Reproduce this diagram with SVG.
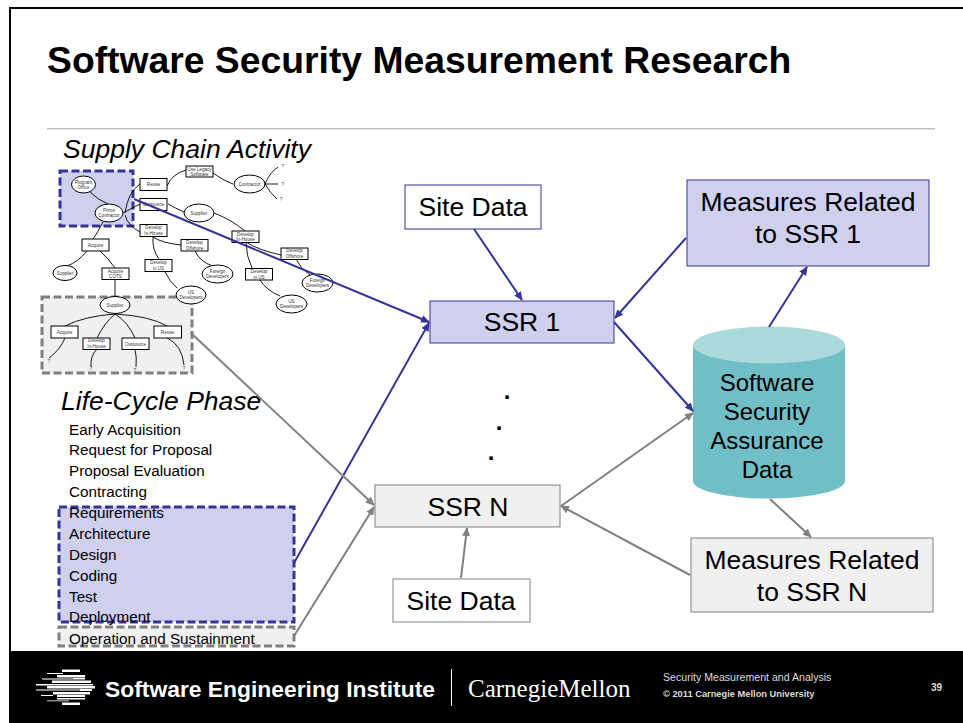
<svg xmlns="http://www.w3.org/2000/svg" width="963" height="723" viewBox="0 0 963 723">
<style>
text{font-family:"Liberation Sans",Arial,sans-serif;fill:#000}
.m{text-anchor:middle}
.l{font-size:26.500px}
.y{font-size:24px}
.s{font-size:15.250px}
.t{font-size:4.600px;fill:#333;text-anchor:middle}
.q{font-size:5px;fill:#555;text-anchor:middle}
.nb{fill:#fff;stroke:#000;stroke-width:1}
.c{fill:none;stroke:#000;stroke-width:.9}
.blue{fill:none;stroke:#333399;stroke-width:2}
.gray{fill:none;stroke:#808080;stroke-width:2}
.bb{fill:#cfcfee;stroke:#333399;stroke-width:1}
.gb{fill:#f0f0f0;stroke:#808080;stroke-width:1}
.wb{fill:#fff;stroke:#333399;stroke-width:1}
.dbl{fill:#cfcfee;stroke:#333399;stroke-width:3;stroke-dasharray:8 3.500}
.dgr{fill:#f0f0f0;stroke:#808080;stroke-width:3;stroke-dasharray:8 3.500}
.w{fill:#fff}
.g{fill:#888}
.f{fill:#ddd}
</style>
<defs>
<marker id="ab" markerWidth="10" markerHeight="8" refX="8" refY="4" orient="auto" markerUnits="userSpaceOnUse"><path d="M0 0L9 4L0 8Z" fill="#333399"/></marker>
<marker id="ag" markerWidth="10" markerHeight="8" refX="8" refY="4" orient="auto" markerUnits="userSpaceOnUse"><path d="M0 0L9 4L0 8Z" fill="#808080"/></marker>
</defs>
<rect width="963" height="723" fill="#fff"/>
<rect x="9" y="7" width="954" height="2" fill="#000"/>
<rect x="9" y="7" width="2" height="644" fill="#000"/>
<rect x="9" y="651" width="954" height="72" fill="#000"/>
<text x="47" y="73" font-size="37.300" font-weight="bold">Software Security Measurement Research</text>
<rect x="47" y="128" width="888" height="1.500" fill="#c0c0c0"/>

<g id="supply-chain">
<text x="63" y="158" font-size="26.500" font-style="italic">Supply Chain Activity</text>
<rect class="dbl" x="60" y="171" width="73" height="55"/>
<rect class="dgr" x="42" y="297" width="150" height="76"/>
<path class="c" d="M90 192Q98 200 108 204M125 213Q128 192 140 184M123 213L140 204M125 215Q128 226 140 232M103 222Q98 232 93 239M87 251Q78 262 67 266M100 251Q108 258 115 268M167 186Q172 174 186 170M213 173Q222 180 233 184M168 204Q175 208 184 212M214 213Q232 220 245 231M153 237Q162 243 181 245M153 237Q152 250 159 259M195 251Q200 262 213 266M165 272Q170 282 177 288M246 242Q258 250 281 255M246 242Q246 256 252 268M296 259Q300 268 310 275M260 280Q266 290 280 296M265 184Q270 172 278 167M265 184L278 184M265 184Q270 193 277 199M115 279L115 297M115 314Q85 316 65 326M115 314Q105 322 97 338M115 314Q128 322 135 338M115 314Q150 316 167 326M65 338Q60 350 49 358M97 349Q90 356 91 367M135 349Q137 358 136 367M167 338Q182 345 184 365"/>
<g id="program-office"><ellipse class="nb" cx="83.500" cy="184.500" rx="12" ry="8.500"/><text class="t" x="83.500" y="183.500">Program</text><text class="t" x="83.500" y="188.500">Office</text></g>
<g id="prime-contractor"><ellipse class="nb" cx="109" cy="213" rx="14" ry="9"/><text class="t" x="109" y="212">Prime</text><text class="t" x="109" y="217">Contractor</text></g>
<g id="reuse"><rect class="nb" x="140" y="178.500" width="27" height="12"/><text class="t" x="153.500" y="186">Reuse</text></g>
<g id="outsource"><rect class="nb" x="140" y="198.500" width="27" height="12"/><text class="t" x="153.500" y="206">Outsource</text></g>
<g id="dev-inhouse"><rect class="nb" x="140" y="224.500" width="27" height="12"/><text class="t" x="153.500" y="229">Develop</text><text class="t" x="153.500" y="235">In-House</text></g>
<g id="acquire"><rect class="nb" x="82" y="239" width="27" height="12"/><text class="t" x="95.500" y="246.500">Acquire</text></g>
<g id="supplier1"><ellipse class="nb" cx="65" cy="273" rx="12" ry="7.500"/><text class="t" x="65" y="275">Supplier</text></g>
<g id="acquire-cots"><rect class="nb" x="102" y="268" width="27" height="11.500"/><text class="t" x="115.500" y="272.500">Acquire</text><text class="t" x="115.500" y="278">COTS</text></g>
<g id="legacy"><rect class="nb" x="186" y="166" width="27" height="11"/><text class="t" x="199.500" y="170.500">Use Legacy</text><text class="t" x="199.500" y="175.500">Software</text></g>
<g id="contractor"><ellipse class="nb" cx="249.500" cy="184" rx="15.500" ry="9"/><text class="t" x="249.500" y="186">Contractor</text></g>
<g id="supplier2"><ellipse class="nb" cx="199" cy="213" rx="15" ry="9"/><text class="t" x="199" y="215">Supplier</text></g>
<g id="dev-inhouse2"><rect class="nb" x="232" y="231" width="27" height="11.500"/><text class="t" x="245.500" y="235.500">Develop</text><text class="t" x="245.500" y="240.500">In-House</text></g>
<g id="dev-offshore1"><rect class="nb" x="181" y="239.500" width="27" height="11.500"/><text class="t" x="194.500" y="244">Develop</text><text class="t" x="194.500" y="249.500">Offshore</text></g>
<g id="dev-us1"><rect class="nb" x="145" y="259.500" width="27" height="12"/><text class="t" x="158.500" y="264">Develop</text><text class="t" x="158.500" y="270">in US</text></g>
<g id="dev-offshore2"><rect class="nb" x="281" y="248" width="27" height="11.500"/><text class="t" x="294.500" y="252">Develop</text><text class="t" x="294.500" y="258">Offshore</text></g>
<g id="dev-us2"><rect class="nb" x="245.500" y="268.500" width="27" height="11.500"/><text class="t" x="259" y="273">Develop</text><text class="t" x="259" y="278.500">in US</text></g>
<g id="foreign1"><ellipse class="nb" cx="217.500" cy="274" rx="15.500" ry="9"/><text class="t" x="217.500" y="273">Foreign</text><text class="t" x="217.500" y="278">Developers</text></g>
<g id="foreign2"><ellipse class="nb" cx="317.500" cy="283" rx="15.500" ry="9"/><text class="t" x="317.500" y="282">Foreign</text><text class="t" x="317.500" y="287">Developers</text></g>
<g id="us1"><ellipse class="nb" cx="191" cy="295" rx="15" ry="9"/><text class="t" x="191" y="294">US</text><text class="t" x="191" y="299">Developers</text></g>
<g id="us2"><ellipse class="nb" cx="291.500" cy="304" rx="15.500" ry="9"/><text class="t" x="291.500" y="303">US</text><text class="t" x="291.500" y="308">Developers</text></g>
<g id="supplier3"><ellipse class="nb" cx="115" cy="305" rx="15" ry="8.500"/><text class="t" x="115" y="307">Supplier</text></g>
<g id="acquire2"><rect class="nb" x="51" y="326" width="27" height="12"/><text class="t" x="64.500" y="333.500">Acquire</text></g>
<g id="dev-inhouse3"><rect class="nb" x="83" y="338" width="27" height="11.500"/><text class="t" x="96.500" y="342">Develop</text><text class="t" x="96.500" y="348">In-House</text></g>
<g id="outsource2"><rect class="nb" x="122" y="338" width="27" height="11.500"/><text class="t" x="135.500" y="345.500">Outsource</text></g>
<g id="reuse2"><rect class="nb" x="154" y="326" width="27.500" height="12"/><text class="t" x="167.500" y="333.500">Reuse</text></g>
<text class="q" x="283" y="168">?</text><text class="q" x="283" y="186">?</text><text class="q" x="281" y="201">?</text>
<text class="q" x="49" y="363">?</text><text class="q" x="91" y="370">?</text><text class="q" x="135" y="372">?</text><text class="q" x="184" y="370">?</text>
</g>

<g id="life-cycle">
<rect class="dbl" x="59" y="507" width="235" height="115"/>
<rect class="dgr" x="59" y="627" width="235" height="19"/>
<text x="61" y="410" font-size="26.500" font-style="italic">Life-Cycle Phase</text>
<text class="s" x="69" y="435">Early Acquisition</text>
<text class="s" x="69" y="455">Request for Proposal</text>
<text class="s" x="69" y="476">Proposal Evaluation</text>
<text class="s" x="69" y="497">Contracting</text>
<text class="s" x="69" y="518">Requirements</text>
<text class="s" x="69" y="539">Architecture</text>
<text class="s" x="69" y="560">Design</text>
<text class="s" x="69" y="581">Coding</text>
<text class="s" x="69" y="602">Test</text>
<text class="s" x="69" y="622">Deployment</text>
<text class="s" x="69" y="644">Operation and Sustainment</text>
</g>

<g id="cylinder">
<path d="M693 345V481A76 17.500 0 0 0 845 481V345Z" fill="#70bfc6"/>
<ellipse cx="769" cy="345" rx="76" ry="18.500" fill="#acdadc"/>
<text class="y m" x="767" y="391">Software</text>
<text class="y m" x="767" y="420">Security</text>
<text class="y m" x="767" y="449">Assurance</text>
<text class="y m" x="767" y="478">Data</text>
</g>
<g id="site-data-1"><rect class="wb" x="405" y="185" width="136" height="44"/><text class="l m" x="473" y="216">Site Data</text></g>
<g id="ssr-1"><rect class="bb" x="430" y="301" width="184" height="42"/><text class="l m" x="522" y="331">SSR 1</text></g>
<g id="ssr-n"><rect class="gb" x="375" y="485" width="185" height="42"/><text class="l m" x="468" y="516">SSR N</text></g>
<g id="site-data-n"><rect fill="#fff" stroke="#808080" x="393" y="579" width="137" height="43"/><text class="l m" x="461" y="610">Site Data</text></g>
<g id="measures-1"><rect class="bb" x="687" y="180" width="242" height="86"/><text class="l m" x="808" y="211">Measures Related</text><text class="l m" x="808" y="243">to SSR 1</text></g>
<g id="measures-n"><rect class="gb" x="691" y="538" width="242" height="74"/><text class="l m" x="812" y="569">Measures Related</text><text class="l m" x="812" y="601">to SSR N</text></g>
<text x="507" y="399" font-size="24" font-weight="bold" class="m">.</text>
<text x="499" y="430" font-size="24" font-weight="bold" class="m">.</text>
<text x="491" y="460" font-size="24" font-weight="bold" class="m">.</text>

<g id="connectors">
<line class="blue" x1="134" y1="199" x2="429" y2="322" marker-end="url(#ab)"/>
<line class="blue" x1="474" y1="229" x2="522" y2="300" marker-end="url(#ab)"/>
<line class="blue" x1="686" y1="238" x2="615" y2="318" marker-end="url(#ab)"/>
<line class="blue" x1="614" y1="322" x2="693" y2="411" marker-end="url(#ab)"/>
<line class="blue" x1="769" y1="327" x2="807" y2="267" marker-end="url(#ab)"/>
<line class="blue" x1="294" y1="563" x2="429" y2="323" marker-end="url(#ab)"/>
<line class="gray" x1="192" y1="334" x2="374" y2="505" marker-end="url(#ag)"/>
<line class="gray" x1="294" y1="636" x2="374" y2="507" marker-end="url(#ag)"/>
<line class="gray" x1="461" y1="578" x2="467" y2="528" marker-end="url(#ag)"/>
<line class="gray" x1="561" y1="506" x2="693" y2="413" marker-end="url(#ag)"/>
<line class="gray" x1="690" y1="575" x2="561" y2="506" marker-end="url(#ag)"/>
<line class="gray" x1="770" y1="499" x2="811" y2="537" marker-end="url(#ag)"/>
</g>

<g id="footer">
<rect class="w" x="62" y="669.500" width="18" height="2.500"/>
<rect class="w" x="47" y="673" width="16" height="1"/>
<rect class="w" x="57" y="675" width="28" height="2.500"/>
<rect class="g" x="42" y="678" width="31" height="2"/><rect class="w" x="73" y="678" width="12" height="1.500"/>
<rect class="w" x="52" y="680.500" width="39" height="2.500"/>
<rect class="w" x="36" y="684" width="57" height="1.500"/>
<rect class="w" x="47" y="686" width="48" height="2.500"/>
<rect class="g" x="36" y="689" width="44" height="2"/><rect class="w" x="80" y="689" width="12" height="2"/>
<rect class="w" x="53" y="692" width="37" height="2.500"/>
<rect class="w" x="41" y="695" width="12" height="1"/><rect class="w" x="57" y="695" width="28" height="2"/>
<rect class="w" x="57" y="698" width="28" height="1.500"/>
<rect class="g" x="47" y="700" width="22" height="1.500"/>
<rect class="w" x="62" y="702.500" width="18" height="2.500"/>
<text class="w" x="105" y="697" font-size="22.850" font-weight="bold">Software Engineering Institute</text>
<rect class="w" x="451" y="669" width="1" height="37"/>
<text class="w" x="468" y="697" font-size="25" style="font-family:'Liberation Serif',serif">CarnegieMellon</text>
<text class="f" x="663" y="681" font-size="10.600">Security Measurement and Analysis</text>
<text class="f" x="663" y="697" font-size="9.300" font-weight="bold">© 2011 Carnegie Mellon University</text>
<text class="f" x="931" y="691" font-size="10" font-weight="bold">39</text>
</g>
</svg>
